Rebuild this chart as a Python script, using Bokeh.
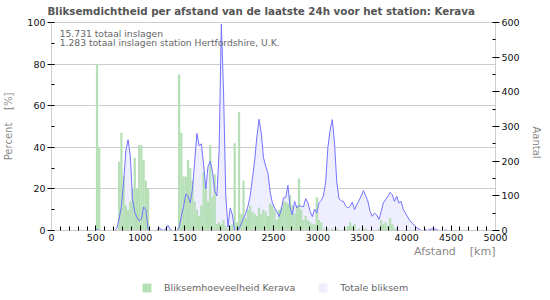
from bokeh.plotting import figure
from bokeh.layouts import column
from bokeh.models import (Range1d, LinearAxis, Legend, LegendItem, Title,
                          FixedTicker, ColumnDataSource, Label)
from bokeh.embed import file_html
from bokeh.resources import INLINE
import math

# ---------------- data ----------------
bin_width_km = 25
bin_start_km = list(range(0, 5000, bin_width_km))

# Bliksemhoeveelheid Kerava  [%]   (one value per 25 km bin, rows of 500 km)
kerava_pct = (
    [0] * 20 +                                                                   # 0-475
    [80, 40, 0, 0, 0, 0, 0, 0, 0, 0, 33, 47, 26, 12, 10, 14, 20, 35, 20, 41] +   # 500-975
    [41, 34, 24, 20, 0, 0, 0, 0, 0, 0, 0, 0, 0, 0, 0, 0, 0, 75, 47, 26] +        # 1000-1475
    [26, 34, 30, 24, 14, 10, 7, 12, 28, 22, 14, 41, 16, 27, 3, 4, 3, 5, 2, 1] +  # 1500-1975
    [2, 3, 42, 4, 57, 8, 24, 6, 10, 12, 9, 8, 7, 11, 8, 10, 9, 7, 13, 12] +      # 2000-2475
    [10, 5, 10, 11, 14, 14, 13, 17, 12, 8, 12, 25, 10, 5, 7, 5, 4, 3, 3, 16] +   # 2500-2975
    [5, 4, 1, 0, 1, 0, 1, 0, 1, 0, 0, 0, 1, 2, 4, 2, 3, 0, 1, 0] +               # 3000-3475
    [1, 1, 0, 0, 0, 0, 0, 1, 5, 3, 4, 2, 6, 3, 1, 1, 0, 0, 0, 0] +               # 3500-3975
    [0] * 20 +                                                                   # 4000-4475
    [0] * 20                                                                     # 4500-4975
)

# Totale bliksem  [aantal]
total_count = (
    [0] * 20 +
    [3, 0, 0, 0, 0, 0, 0, 0, 0, 8, 35, 70, 140, 230, 262, 215, 90, 52, 38, 28] +
    [33, 68, 60, 3, 0, 0, 0, 0, 7, 3, 0, 5, 15, 3, 0, 0, 0, 10, 40, 70] +
    [105, 100, 80, 120, 200, 280, 245, 250, 190, 120, 185, 200, 172, 115, 100, 230, 596, 400, 100, 10] +
    [65, 45, 0, 0, 5, 20, 35, 50, 70, 100, 150, 200, 270, 321, 280, 210, 185, 165, 110, 80] +
    [65, 55, 40, 60, 94, 95, 130, 65, 45, 84, 65, 72, 70, 68, 92, 80, 55, 40, 62, 50] +
    [80, 87, 100, 140, 239, 290, 320, 250, 140, 92, 86, 84, 70, 65, 70, 82, 60, 75, 86, 100] +
    [115, 100, 85, 55, 41, 50, 45, 32, 55, 80, 89, 98, 110, 103, 84, 99, 79, 84, 60, 50] +
    [38, 28, 21, 14, 8, 5, 0, 0, 3, 0, 3, 5, 5, 3, 0, 0, 0, 2, 0, 0] +
    [0] * 20
)

x_ticks = [0, 500, 1000, 1500, 2000, 2500, 3000, 3500, 4000, 4500, 5000]
pct_ticks = [0, 20, 40, 60, 80, 100]
count_ticks = [0, 100, 200, 300, 400, 500, 600]

NB = "\u00a0"
title_text = "Bliksemdichtheid per afstand van de laatste 24h voor het station: Kerava"
stats_lines = ["15.731 totaal inslagen",
               "1.283 totaal inslagen station Hertfordshire, U.K."]
legend_labels = ["Bliksemhoeveelheid Kerava", "Totale bliksem"]
x_title = "Afstand" + NB * 4 + "[km]"
y_title_left = "Percent" + NB * 4 + "[%]"
y_title_right = "Aantal"

FONT = "DejaVu Sans"
GREEN = "#b5dfb5"
LAVENDER = "#eeeeff"
BLUE = "#7373ff"
GRID = "#cccccc"

# ---------------- main figure ----------------
src = ColumnDataSource(dict(
    left=bin_start_km,
    right=[s + bin_width_km for s in bin_start_km],
    mid=[s + bin_width_km / 2 for s in bin_start_km],
    pct=kerava_pct,
    cnt=total_count,
))

p = figure(width=550, height=275, output_backend="svg", toolbar_location=None,
           x_range=Range1d(0, 5000), y_range=Range1d(0, 100),
           min_border_left=49, min_border_right=51, min_border_top=22,
           min_border_bottom=45)
p.extra_y_ranges = {"cnt": Range1d(0, 600)}
p.background_fill_color = "white"
p.border_fill_color = "white"
p.outline_line_color = GRID

area = p.varea(x="mid", y1=0, y2="cnt", source=src, y_range_name="cnt",
               fill_color=LAVENDER)
bars = p.quad(left="left", right="right", bottom=0, top="pct", source=src,
              fill_color=GREEN, line_color=None)
p.line(x="mid", y="cnt", source=src, y_range_name="cnt",
       line_color=BLUE, line_width=1)

# title (above)
p.add_layout(Title(text=title_text, align="left", offset=-4, standoff=8,
                   vertical_align="top", text_font=FONT, text_font_style="bold",
                   text_font_size="10.3px", text_color="#555555"), "above")

# axes
p.xaxis.ticker = FixedTicker(ticks=x_ticks, minor_ticks=list(range(0, 5001, 100)))
p.yaxis.ticker = FixedTicker(ticks=pct_ticks, minor_ticks=list(range(0, 101, 10)))
raxis = LinearAxis(y_range_name="cnt",
                   ticker=FixedTicker(ticks=count_ticks, minor_ticks=list(range(0, 601, 50))))
p.add_layout(raxis, "right")

for ax in [p.xaxis[0], p.yaxis[0], raxis]:
    ax.axis_line_color = GRID
    ax.major_tick_line_color = "black"
    ax.minor_tick_line_color = "black"
    ax.major_label_text_font = FONT
    ax.major_label_text_font_size = "9.5px"
    ax.major_label_text_color = "#111111"
    ax.axis_label_text_font = FONT
    ax.axis_label_text_font_style = "normal"
    ax.axis_label_text_color = "#888888"

p.xaxis.major_tick_in = 5
p.xaxis.major_tick_out = 0
p.xaxis.minor_tick_in = 4
p.xaxis.minor_tick_out = 0
p.xaxis.major_label_standoff = 3

ly = p.yaxis[0]
ly.major_tick_in = 0
ly.major_tick_out = 4
ly.minor_tick_in = 3
ly.minor_tick_out = 0
ly.major_label_standoff = 2
ly.axis_label = y_title_left
ly.axis_label_standoff = 10
ly.axis_label_text_font_size = "10px"

raxis.major_tick_in = 2
raxis.major_tick_out = 4
raxis.minor_tick_in = 3
raxis.minor_tick_out = 0
raxis.major_label_standoff = 2
raxis.axis_label = y_title_right
raxis.axis_label_standoff = 14
raxis.axis_label_text_font_size = "10px"
raxis.axis_label_orientation = -math.pi / 2

p.xgrid.visible = False
p.ygrid.ticker = FixedTicker(ticks=pct_ticks)
p.ygrid.grid_line_color = GRID

# x-axis title, right aligned under the axis
p.add_layout(Title(text=x_title, align="right", offset=0, standoff=0,
                   vertical_align="middle", text_font=FONT,
                   text_font_style="normal", text_font_size="11px",
                   text_color="#888888"), "below")

# stats text inside the plot
for i, line_text in enumerate(stats_lines):
    p.add_layout(Label(x=92, y=[94.8, 90.2][i], text=line_text, text_font=FONT,
                       text_font_size="9.2px", text_color="#666666",
                       text_align="left", text_baseline="middle"))

# ---------------- legend strip ----------------
# same series, viewed through ranges that show none of them: only the legend is seen
lg = figure(width=550, height=25, output_backend="svg", toolbar_location=None,
            x_range=Range1d(-20, -10), y_range=Range1d(-20, -10), min_border=0,
            x_axis_location=None, y_axis_location=None)
lg.outline_line_color = None
lg.grid.visible = False
lg.background_fill_color = "white"
lg.border_fill_color = "white"
sw_bar = lg.quad(left="left", right="right", bottom=0, top="pct", source=src,
                 fill_color=GREEN, line_color=None)
sw_area = lg.varea(x="mid", y1=0, y2="cnt", source=src, fill_color=LAVENDER)

legend = Legend(items=[LegendItem(label=legend_labels[0], renderers=[sw_bar]),
                       LegendItem(label=legend_labels[1], renderers=[sw_area])],
                location=(90, 7), orientation="horizontal",
                glyph_width=11, glyph_height=11, label_height=11,
                label_standoff=12, spacing=22, padding=0, margin=0,
                border_line_alpha=0, background_fill_alpha=0,
                label_text_font=FONT, label_text_font_size="9.5px",
                label_text_color="#666666", label_text_baseline="middle")
lg.add_layout(legend)

open("out.html", "w").write(file_html(column(p, lg, spacing=0), INLINE))
